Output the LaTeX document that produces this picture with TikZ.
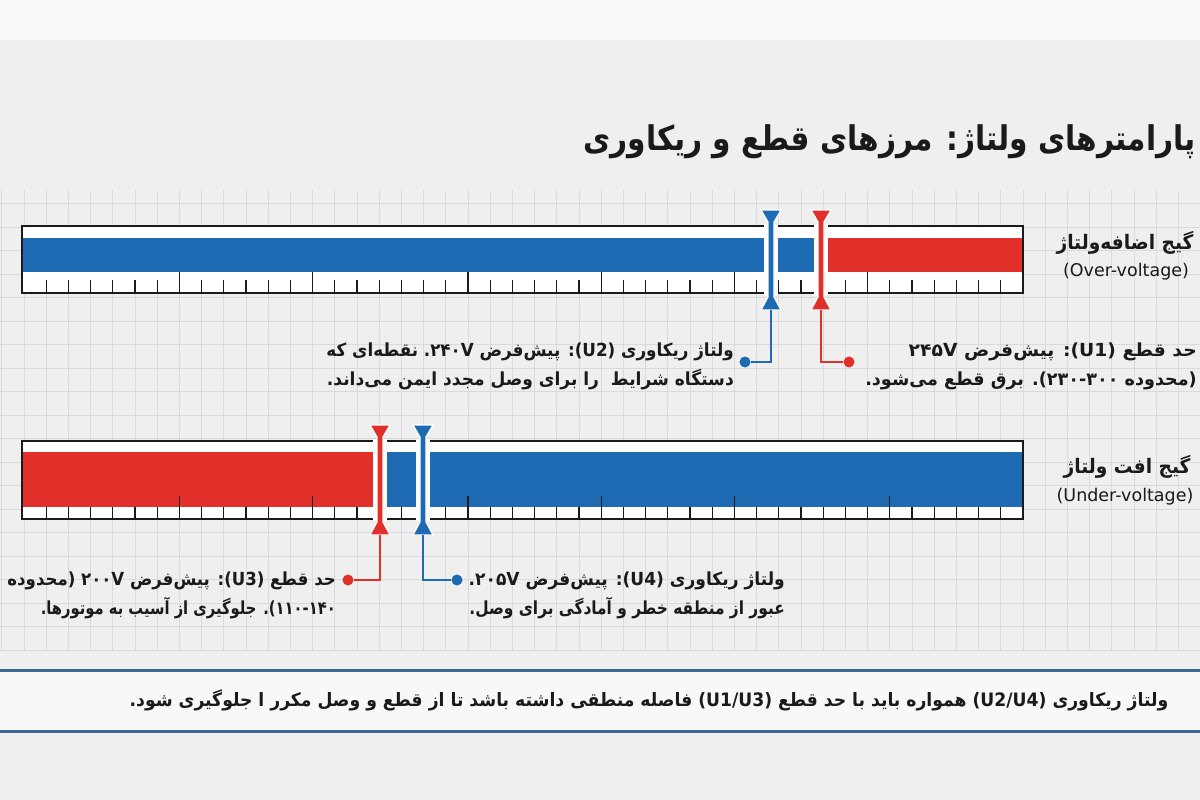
\documentclass[tikz,border=0pt]{standalone}
\usepackage{graphicx}
\usepackage{fontspec}
\setmainfont{DejaVu Sans}
\newfontfamily\fa[Script=Arabic]{DejaVu Sans}
\newfontfamily\fat[Script=Arabic, FakeStretch=0.88]{DejaVu Sans}
\newfontfamily\fan[Script=Arabic, FakeStretch=0.93]{DejaVu Sans}
\TeXXeTstate=1
\definecolor{barblue}{HTML}{1E6BB3}
\definecolor{barred}{HTML}{E1302A}
\definecolor{bandblue}{HTML}{3A6890}
\definecolor{gridc}{HTML}{DADADA}
\definecolor{bg}{HTML}{EFEFEF}
\definecolor{ink}{HTML}{1A1A1A}
\newcommand{\rl}[2][1]{\scalebox{#1}[1]{\beginR #2\endR}}
\tikzset{
  frame/.style={draw=ink, line width=2.4, fill=white},
  tick/.style={draw=ink, line width=1.3},
  pics/gmark/.style args={#1/#2}{code={
    \fill[white] (-7,14) rectangle (7,{#2-14});
    \path[fill=#1, draw=white, line width=1.2]
      (-10,0) -- (10,0) -- (3,12) -- (3,{#2-13}) -- (10,#2) -- (-10,#2)
      -- (-3,{#2-13}) -- (-3,12) -- cycle;
    \coordinate (-bot) at (0,#2);
  }},
  callout/.style={draw=#1, line width=2.6},
  dot/.style={circle, fill=#1, inner sep=0, minimum size=11},
  txt/.style={inner sep=0, align=right, text=ink, font=\fan\bfseries\fontsize{18}{29}\selectfont},
  lab/.style={inner sep=0, align=center, text=ink, font=\fan\bfseries\fontsize{20}{25}\selectfont},
  eng/.style={inner sep=0, text=ink, font=\fontsize{17.5}{20}\selectfont},
}
\begin{document}
\begin{tikzpicture}[x=1pt,y=-1pt]
\useasboundingbox (0,0) rectangle (1200,800);
\fill[bg] (0,0) rectangle (1200,800);
\fill[white!60!bg] (0,0) rectangle (1200,40);
% grid
\foreach \k in {-1,...,53} \draw[gridc, line width=0.8] ({24+\k*22.2},190) -- ({24+\k*22.2},650);
\foreach \j in {0,...,19} \draw[gridc, line width=0.8] (0,{203.5+\j*23.5}) -- (1200,{203.5+\j*23.5});
% title
\node[anchor=east, inner sep=0, align=right, text=ink] (title) at (1196,142)
  {\fat\bfseries\fontsize{34}{40}\selectfont\rl[0.99]{پارامترهای ولتاژ: مرزهای قطع و ریکاوری}};
% ---------- over-voltage gauge
\path[frame] (22,226) rectangle (1023,293);
\fill[barblue] (22,238) rectangle (821,272);
\fill[barred] (821,238) rectangle (1023,272);
\foreach \k in {1,...,44} \draw[tick] ({24+\k*22.2},280) -- ({24+\k*22.2},293);
\foreach \k in {7,13,20,26,32,38} \draw[tick] ({24+\k*22.2},272) -- ({24+\k*22.2},293);
\draw[draw=ink, line width=2.4] (22,226) rectangle (1023,293);
\pic (mU2) at (771,210) {gmark=barblue/100};
\pic (mU1) at (821,210) {gmark=barred/100};
\node[dot=barblue] (dU2) at (745,362) {};
\node[dot=barred] (dU1) at (849,362) {};
\draw[callout=barblue] (mU2-bot) |- (dU2);
\draw[callout=barred] (mU1-bot) |- (dU1);
\node[txt, anchor=east] (tU2) at (734,366)
  {\rl{ولتاژ ریکاوری (U2)\kern0pt: پیش‌فرض ۲۴۰V\kern0pt. نقطه‌ای که}\\
   \rl[1.02]{دستگاه شرایط \ را برای وصل مجدد ایمن می‌داند.}};
\node[txt, anchor=east] (tU1) at (1197,366)
  {\rl[1.12]{حد قطع (U1)\kern0pt: پیش‌فرض ۲۴۵V}\\
   \rl[1.05]{(محدوده ۲۳۰-۳۰۰). برق قطع می‌شود.}};
\node[lab] (lOver) at (1125,243) {\rl{گیج اضافه‌ولتاژ}};
\node[eng] (eOver) at (1126,272) {(Over-voltage)};
% ---------- under-voltage gauge
\path[frame] (22,441) rectangle (1023,519);
\fill[barred] (22,452) rectangle (380,507);
\fill[barblue] (380,452) rectangle (1023,507);
\foreach \k in {1,...,44} \draw[tick] ({24+\k*22.2},507) -- ({24+\k*22.2},519);
\foreach \k in {7,13,20,26,32,39} \draw[tick] ({24+\k*22.2},496) -- ({24+\k*22.2},519);
\draw[draw=ink, line width=2.4] (22,441) rectangle (1023,519);
\pic (mU3) at (380,425) {gmark=barred/110};
\pic (mU4) at (423,425) {gmark=barblue/110};
\node[dot=barred] (dU3) at (348,580) {};
\node[dot=barblue] (dU4) at (457,580) {};
\draw[callout=barred] (mU3-bot) |- (dU3);
\draw[callout=barblue] (mU4-bot) |- (dU4);
\node[txt, anchor=east] (tU3) at (336,595)
  {\rl[0.99]{حد قطع (U3)\kern0pt: پیش‌فرض ۲۰۰V (محدوده}\\
   \rl[0.88]{۱۱۰-۱۴۰). جلوگیری از آسیب به موتورها.}};
\node[txt, anchor=east] (tU4) at (785,595)
  {\rl[1.02]{ولتاژ ریکاوری (U4)\kern0pt: پیش‌فرض ۲۰۵V\kern0pt.}\\
   \rl[0.92]{عبور از منطقه خطر و آمادگی برای وصل.}};
\node[lab] (lUnder) at (1127,467) {\rl{گیج افت ولتاژ}};
\node[eng] (eUnder) at (1125,497) {(Under-voltage)};
% ---------- note band
\fill[white!55!bg] (0,670) rectangle (1200,731);
\draw[bandblue, line width=3] (0,670) -- (1200,670);
\draw[bandblue, line width=3] (0,731) -- (1200,731);
\node[inner sep=0, align=center, text=ink, font=\fan\bfseries\fontsize{18.5}{24}\selectfont] (note) at (649,700)
  {\rl{ولتاژ ریکاوری (U2/U4) همواره باید با حد قطع (U1/U3) فاصله منطقی داشته باشد تا از قطع و وصل مکرر ا جلوگیری شود.}};
\end{tikzpicture}
\end{document}
